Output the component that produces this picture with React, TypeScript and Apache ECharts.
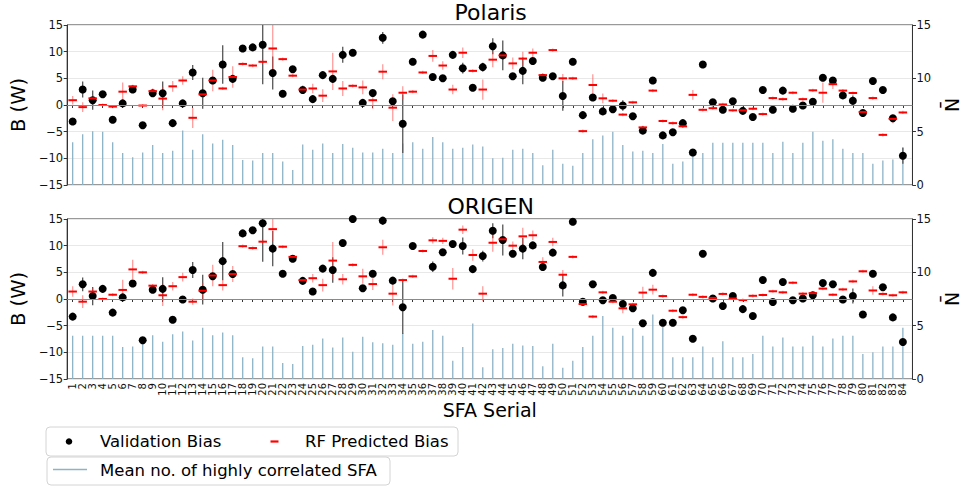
import React, { useEffect, useRef } from "react";
import * as echarts from "echarts";

const sfaSerial = [
  1, 2, 3, 4, 5, 6, 7, 8, 9, 10, 11, 12, 13, 14, 15, 16, 17, 18, 19, 20, 21,
  22, 23, 24, 25, 26, 27, 28, 29, 30, 31, 32, 33, 34, 35, 36, 37, 38, 39, 40,
  41, 42, 43, 44, 45, 46, 47, 48, 49, 50, 51, 52, 53, 54, 55, 56, 57, 58, 59,
  60, 61, 62, 63, 64, 65, 66, 67, 68, 69, 70, 71, 72, 73, 74, 75, 76, 77, 78,
  79, 80, 81, 82, 83, 84,
];

// ---------- Polaris ----------
const polarisValidation = [
  -3.1, 2.9, 0.9, 2.0, -2.75, 0.3, 2.9, -3.8, 2.2, 2.2, -3.4, 0.3, 6.1, 2.2,
  4.6, 7.6, 4.9, 10.6, 10.8, 11.3, 6.0, 2.1, 6.7, 2.8, 1.1, 5.6, 4.9, 9.4, 9.8,
  0.4, 2.25, 12.6, 0.7, -3.5, 8.1, 13.2, 5.25, 5.0, 9.4, 6.9, 3.25, 7.1, 11.0,
  9.3, 5.4, 6.4, 8.25, 5.1, 5.4, 1.7, 8.1, -1.9, 1.4, -1.2, -0.8, -0.1, -2.1,
  -4.8, 4.6, -5.7, -5.1, -3.4, -8.9, 7.6, 0.5, -0.9, 0.7, -1.1, -2.25, 2.8,
  -0.9, 2.7, -0.7, -0.1, 0.6, 5.1, 4.6, 1.8, 0.8, -1.5, 4.5, 2.8, -2.5, -9.5,
];
const polarisValidationErr = [
  0.4, 1.5, 1.8, 0.4, 0.4, 0.4, 0.4, 0.4, 0.4, 2.2, 0.4, 0.5, 1.4, 2.9, 0.4,
  3.6, 0.4, 0.4, 0.4, 7.4, 3.1, 0.4, 0.4, 0.6, 0.4, 0.4, 0.4, 1.5, 0.4, 0.4,
  0.4, 1.1, 0.4, 5.5, 0.4, 0.4, 0.4, 0.4, 0.4, 1.0, 0.4, 0.8, 1.5, 2.8, 0.4,
  2.5, 0.4, 0.4, 0.4, 2.8, 0.4, 0.4, 0.4, 0.4, 0.4, 1.0, 0.4, 0.4, 0.4, 0.4,
  0.4, 0.4, 0.4, 0.4, 0.4, 0.4, 0.4, 0.4, 0.4, 0.4, 0.4, 0.4, 0.4, 0.4, 0.4,
  0.4, 0.4, 0.4, 1.0, 0.4, 0.4, 0.4, 0.4, 1.5,
];
const polarisPredicted = [
  0.9, -0.4, 1.25, 0.0, -0.3, 2.5, 3.5, -0.1, 2.6, 1.2, 3.5, 4.6, -2.4, 2.0,
  4.6, 3.1, 5.25, 7.7, 7.4, 8.1, 10.6, 8.6, 5.5, 2.9, 3.1, 1.75, 6.3, 3.1, 3.6,
  3.3, 0.9, 6.25, -0.5, 2.3, 2.5, 6.1, 9.2, 7.4, 2.9, 9.8, 6.4, 2.9, 8.5, 9.3,
  7.8, 8.7, 9.8, 5.6, 10.3, 5.0, 5.0, -4.9, 3.75, 1.25, 0.8, -1.8, 0.5, -4.2,
  2.7, -3.0, -3.4, -4.0, 1.9, -0.9, -0.6, 0.1, -1.0, -1.0, -0.7, -1.7, 1.3,
  1.1, 2.3, 1.1, 2.75, 2.3, 3.9, 2.7, 2.25, -1.3, 1.3, -5.6, -2.6, -1.4,
];
const polarisPredictedErr = [
  0.8, 0.9, 0.6, 0.3, 0.3, 1.7, 0.3, 0.3, 0.5, 2.2, 1.0, 0.8, 1.9, 0.7, 2.0,
  0.3, 2.0, 0.3, 0.3, 0.3, 4.4, 0.3, 0.3, 0.8, 0.9, 1.2, 3.5, 1.4, 0.3, 1.3,
  1.6, 1.4, 2.5, 1.2, 0.3, 0.3, 1.1, 0.8, 0.9, 1.0, 0.3, 1.9, 1.4, 0.3, 1.1,
  1.3, 0.8, 0.3, 0.3, 0.8, 0.3, 0.3, 2.0, 0.9, 0.3, 0.3, 0.3, 0.3, 0.3, 0.3,
  0.3, 0.3, 0.9, 0.3, 0.3, 0.3, 0.3, 0.3, 0.3, 0.3, 0.3, 0.3, 0.3, 0.3, 0.3,
  1.9, 0.9, 0.3, 0.3, 0.3, 0.3, 0.3, 0.8, 0.3,
];
const polarisMeanCorrelated = [
  4.0, 4.75, 5.05, 5.0, 4.0, 3.0, 2.6, 3.05, 3.75, 3.0, 3.2, 5.1, 3.3, 4.75,
  3.9, 4.25, 3.75, 2.35, 2.3, 3.0, 3.0, 2.2, 1.4, 3.8, 3.3, 3.9, 3.0, 3.85, 3.5,
  3.05, 3.05, 3.4, 3.0, 3.9, 4.0, 3.4, 4.5, 4.0, 3.4, 3.5, 3.8, 3.6, 2.5, 2.55,
  3.3, 3.4, 3.0, 1.85, 3.3, 2.0, 1.8, 3.0, 4.3, 4.65, 5.0, 3.75, 3.15, 3.2, 3.0,
  3.85, 2.0, 2.2, 3.0, 3.0, 3.95, 3.95, 3.95, 3.95, 3.95, 3.95, 3.0, 4.05, 3.0,
  3.95, 5.0, 4.15, 4.3, 3.4, 3.0, 3.0, 2.0, 2.3, 2.4, 3.55,
];

// ---------- ORIGEN ----------
const origenValidation = [
  -3.3, 2.75, 0.55, 1.9, -2.55, 0.3, 2.9, -7.75, 1.75, 1.9, -3.9, -0.1, 5.45,
  1.75, 4.25, 7.1, 4.7, 12.3, 12.9, 14.2, 9.45, 4.75, 7.55, 3.4, 1.4, 5.7, 5.45,
  10.5, 15.0, 2.0, 4.75, 14.7, 3.45, -1.55, 9.95, 15.6, 6.05, 8.75, 10.3, 9.95,
  5.6, 8.05, 12.8, 11.05, 8.5, 9.45, 10.05, 6.0, 8.7, 2.55, 14.5, -0.5, 2.75,
  -0.25, 0.2, -0.95, -1.75, -4.55, 4.9, -4.45, -4.45, -2.1, -7.45, 8.5, 0.1,
  -1.3, 0.55, -1.9, -3.2, 3.55, -0.55, 3.2, -0.25, 0.1, 0.7, 3.0, 2.75, -0.1,
  0.55, -2.9, 4.75, 2.2, -3.45, -8.05,
];
const origenValidationErr = [
  0.4, 1.3, 1.7, 0.4, 0.4, 0.4, 0.4, 0.4, 0.4, 2.2, 0.4, 0.4, 1.5, 2.8, 0.4,
  3.6, 0.4, 0.4, 0.4, 7.2, 3.3, 0.4, 0.4, 0.4, 0.4, 0.4, 2.4, 0.4, 0.4, 0.4,
  0.4, 0.8, 0.4, 5.0, 0.4, 0.4, 1.0, 0.4, 0.4, 1.6, 0.4, 1.0, 1.4, 2.9, 0.4,
  2.0, 0.4, 0.4, 0.4, 2.1, 0.4, 0.4, 0.4, 0.4, 0.4, 0.4, 0.4, 0.4, 0.4, 0.4,
  0.4, 0.4, 0.4, 0.4, 0.4, 0.4, 0.4, 0.4, 0.4, 0.4, 0.4, 0.4, 0.4, 0.4, 0.4,
  0.4, 0.4, 0.4, 1.4, 0.4, 0.4, 0.4, 0.4, 0.4,
];
const origenPredicted = [
  1.4, -0.5, 1.4, 0.0, 0.8, 1.7, 5.55, 5.0, 2.5, 0.7, 2.4, 4.1, -0.5, 1.55, 4.4,
  2.6, 4.7, 9.9, 9.55, 10.75, 13.1, 9.8, 7.9, 3.55, 3.9, 2.6, 7.2, 3.7, 6.4,
  4.25, 2.8, 9.7, 1.0, 3.55, 4.25, 9.0, 11.0, 10.9, 3.8, 13.0, 8.25, 1.0, 10.55,
  11.2, 10.0, 11.75, 11.95, 6.95, 10.7, 4.55, 7.9, -0.95, -3.3, 1.25, -0.5,
  -1.75, -1.0, 1.2, 1.75, 0.55, -2.2, -3.4, 0.8, 0.4, 0.2, 0.95, 0.1, -0.2, 0.6,
  0.75, 1.45, 1.25, 3.05, 1.0, 1.1, 1.95, 0.8, 1.8, 3.3, 5.2, 1.6, 0.95, 0.7,
  1.25,
];
const origenPredictedErr = [
  1.0, 1.2, 0.6, 0.3, 0.3, 1.9, 1.8, 0.3, 0.3, 2.0, 0.8, 0.8, 0.6, 1.5, 2.0,
  1.0, 1.5, 0.3, 0.3, 0.3, 2.2, 0.3, 0.3, 0.3, 0.8, 1.2, 3.5, 1.0, 0.3, 1.4,
  1.1, 1.4, 2.2, 0.3, 0.3, 0.3, 0.6, 0.6, 2.0, 0.8, 1.1, 1.4, 1.7, 0.3, 0.8,
  1.6, 0.9, 0.9, 0.8, 0.9, 0.3, 0.3, 0.3, 0.3, 0.3, 0.9, 0.3, 1.1, 0.9, 0.3,
  0.3, 0.3, 0.3, 0.3, 0.3, 0.3, 0.3, 0.3, 0.3, 0.3, 0.3, 0.3, 0.3, 0.3, 0.3,
  0.3, 0.3, 0.3, 0.3, 0.3, 0.8, 0.3, 0.3, 0.3,
];
const origenMeanCorrelated = [
  4.05, 4.05, 4.05, 4.05, 4.05, 3.0, 3.05, 3.7, 4.1, 3.5, 4.2, 4.45, 3.6, 4.8,
  4.1, 4.35, 4.1, 2.05, 1.95, 3.05, 3.05, 1.5, 1.4, 3.1, 3.2, 3.8, 2.95, 3.9,
  2.55, 3.95, 3.45, 3.35, 3.2, 4.3, 3.3, 3.5, 4.6, 4.05, 1.7, 3.0, 5.2, 1.1, 2.8,
  2.9, 3.3, 3.15, 3.1, 1.2, 3.3, 1.05, 1.7, 3.0, 4.05, 5.9, 4.8, 4.05, 4.75,
  4.05, 6.05, 4.9, 2.05, 2.05, 2.05, 3.05, 2.05, 3.55, 2.05, 2.05, 2.35, 4.05,
  3.05, 3.9, 3.05, 3.05, 4.05, 3.05, 3.8, 4.05, 4.05, 2.35, 2.5, 3.05, 3.05, 4.8,
];

const FONT = "DejaVu Sans";
const GRID_LEFT = 53;
const GRID_W = 875.3;
const GRID_H = 160;
const GRID_TOPS = [25, 219];
const X_MIN = 0.45;
const X_MAX = 84.96;
const Y_MIN = -15;
const Y_MAX = 15;

const clampY = (v: number) => Math.max(Y_MIN, Math.min(Y_MAX, v));

function verticalLineSeries(
  gi: number,
  yAxisIndex: number,
  data: number[][],
  color: string,
  width: number,
  fromZero: boolean
) {
  return {
    type: "custom",
    xAxisIndex: gi,
    yAxisIndex,
    silent: true,
    data,
    renderItem: (_params: any, api: any) => {
      const x = api.value(0);
      const y = api.value(1);
      let a: number[];
      let b: number[];
      if (fromZero) {
        a = api.coord([x, 0]);
        b = api.coord([x, y]);
      } else {
        const e = api.value(2);
        a = api.coord([x, clampY(y - e)]);
        b = api.coord([x, clampY(y + e)]);
      }
      return {
        type: "line",
        shape: { x1: a[0], y1: a[1], x2: b[0], y2: b[1] },
        style: { stroke: color, lineWidth: width },
      };
    },
  };
}

function panelSeries(
  gi: number,
  val: number[],
  valErr: number[],
  pred: number[],
  predErr: number[],
  nbar: number[]
) {
  const left = gi * 2;
  const right = gi * 2 + 1;
  return [
    verticalLineSeries(
      gi,
      right,
      sfaSerial.map((s, i) => [s, nbar[i]]),
      "#8db3c7",
      1.3,
      true
    ),
    verticalLineSeries(
      gi,
      left,
      sfaSerial.map((s, i) => [s, val[i], valErr[i]]),
      "#555555",
      1.3,
      false
    ),
    {
      type: "scatter",
      xAxisIndex: gi,
      yAxisIndex: left,
      clip: true,
      symbol: "circle",
      symbolSize: 8,
      itemStyle: { color: "#000000", opacity: 1 },
      data: sfaSerial.map((s, i) => [s, val[i]]),
      markLine: {
        silent: true,
        symbol: "none",
        label: { show: false },
        lineStyle: { color: "#8a8a8a", width: 1.2, type: "solid" },
        data: [{ yAxis: 0 }],
      },
    },
    verticalLineSeries(
      gi,
      left,
      sfaSerial.map((s, i) => [s, pred[i], predErr[i]]),
      "rgba(255,60,60,0.5)",
      1.3,
      false
    ),
    {
      type: "scatter",
      xAxisIndex: gi,
      yAxisIndex: left,
      clip: true,
      symbol: "rect",
      symbolSize: [8.5, 2],
      itemStyle: { color: "#ff0000", opacity: 1 },
      data: sfaSerial.map((s, i) => [s, pred[i]]),
    },
  ];
}

const minusFmt = (v: number) => (v < 0 ? "\u2212" + Math.abs(v) : String(v));

export default function App() {
  const ref = useRef<HTMLDivElement>(null);

  useEffect(() => {
    if (!ref.current) return;
    const chart = echarts.init(ref.current, undefined, { renderer: "svg" });

    const grids = GRID_TOPS.map((top) => ({
      left: GRID_LEFT,
      top,
      width: GRID_W,
      height: GRID_H,
      show: true,
      borderColor: "#333333",
      borderWidth: 1,
      backgroundColor: "transparent",
      containLabel: false,
    }));

    const xAxes = [0, 1].map((gi) => ({
      type: "value",
      gridIndex: gi,
      min: X_MIN,
      max: X_MAX,
      axisLine: { show: true, lineStyle: { color: "#333333", width: 1 } },
      axisTick: {
        show: true,
        customValues: sfaSerial,
        length: 3,
        lineStyle: { color: "#333333" },
      },
      axisLabel: {
        show: gi === 1,
        customValues: sfaSerial,
        rotate: 90,
        fontSize: 10,
        margin: 4,
        color: "#111111",
        fontFamily: FONT,
        formatter: (v: number) => String(v),
      },
      splitLine: { show: false },
      name: gi === 1 ? "SFA Serial" : "",
      nameLocation: "middle",
      nameGap: 21,
      nameTextStyle: { fontSize: 19, color: "#000000", fontFamily: FONT },
    }));

    const yAxes: any[] = [];
    [0, 1].forEach((gi) => {
      yAxes.push({
        type: "value",
        gridIndex: gi,
        position: "left",
        min: Y_MIN,
        max: Y_MAX,
        interval: 5,
        axisLine: { show: true, lineStyle: { color: "#333333" } },
        axisTick: { show: true, length: 3.5, lineStyle: { color: "#333333" } },
        axisLabel: {
          fontSize: 11.5,
          color: "#111111",
          margin: 4,
          fontFamily: FONT,
          formatter: minusFmt,
        },
        splitLine: { show: true, lineStyle: { color: "#e8e8e8", width: 1 } },
        name: "B (W)",
        nameLocation: "middle",
        nameGap: 37,
        nameTextStyle: { fontSize: 19.5, color: "#000000", fontFamily: FONT },
      });
      yAxes.push({
        type: "value",
        gridIndex: gi,
        position: "right",
        min: 0,
        max: 15,
        interval: 5,
        axisLine: { show: true, lineStyle: { color: "#333333" } },
        axisTick: { show: true, length: 3.5, lineStyle: { color: "#333333" } },
        axisLabel: {
          fontSize: 11.5,
          color: "#111111",
          margin: 4,
          fontFamily: FONT,
        },
        splitLine: { show: false },
        name: "N\u0304",
        nameLocation: "middle",
        nameRotate: 90,
        nameGap: 25,
        nameTextStyle: { fontSize: 19, color: "#000000", fontFamily: FONT },
      });
    });

    const legendText = {
      fontSize: 16.5,
      fontFamily: FONT,
      fill: "#000000",
      verticalAlign: "middle",
      align: "left",
    };

    chart.setOption({
      animation: false,
      textStyle: { fontFamily: FONT },
      title: [
        {
          text: "Polaris",
          left: GRID_LEFT + GRID_W / 2,
          top: 1,
          padding: 0,
          textAlign: "center",
          textStyle: { fontSize: 22, fontWeight: "normal", color: "#000", fontFamily: FONT },
        },
        {
          text: "ORIGEN",
          left: GRID_LEFT + GRID_W / 2,
          top: 195,
          padding: 0,
          textAlign: "center",
          textStyle: { fontSize: 22, fontWeight: "normal", color: "#000", fontFamily: FONT },
        },
      ],
      grid: grids,
      xAxis: xAxes,
      yAxis: yAxes,
      series: [
        ...panelSeries(
          0,
          polarisValidation,
          polarisValidationErr,
          polarisPredicted,
          polarisPredictedErr,
          polarisMeanCorrelated
        ),
        ...panelSeries(
          1,
          origenValidation,
          origenValidationErr,
          origenPredicted,
          origenPredictedErr,
          origenMeanCorrelated
        ),
      ],
      graphic: [
        {
          type: "rect",
          shape: { x: 46, y: 427, width: 412, height: 29, r: 4 },
          style: { fill: "rgba(255,255,255,0.8)", stroke: "#d4d4d4", lineWidth: 1 },
        },
        {
          type: "circle",
          shape: { cx: 69, cy: 441.5, r: 3.3 },
          style: { fill: "#000000" },
        },
        {
          type: "text",
          x: 100,
          y: 441.5,
          style: { ...legendText, text: "Validation Bias" },
        },
        {
          type: "line",
          shape: { x1: 270.5, y1: 441.5, x2: 278.5, y2: 441.5 },
          style: { stroke: "#ff0000", lineWidth: 2.2 },
        },
        {
          type: "text",
          x: 305,
          y: 441.5,
          style: { ...legendText, text: "RF Predicted Bias" },
        },
        {
          type: "rect",
          shape: { x: 47, y: 457, width: 343, height: 28, r: 4 },
          style: { fill: "rgba(255,255,255,0.8)", stroke: "#d4d4d4", lineWidth: 1 },
        },
        {
          type: "line",
          shape: { x1: 53, y1: 469.5, x2: 87, y2: 469.5 },
          style: { stroke: "#8db3c7", lineWidth: 1.3 },
        },
        {
          type: "text",
          x: 100,
          y: 470.5,
          style: { ...legendText, text: "Mean no. of highly correlated SFA" },
        },
      ],
    });

    return () => {
      chart.dispose();
    };
  }, []);

  return (
    <div
      ref={ref}
      style={{ position: "fixed", left: 0, top: 0, width: 969, height: 487, background: "#ffffff" }}
    />
  );
}
